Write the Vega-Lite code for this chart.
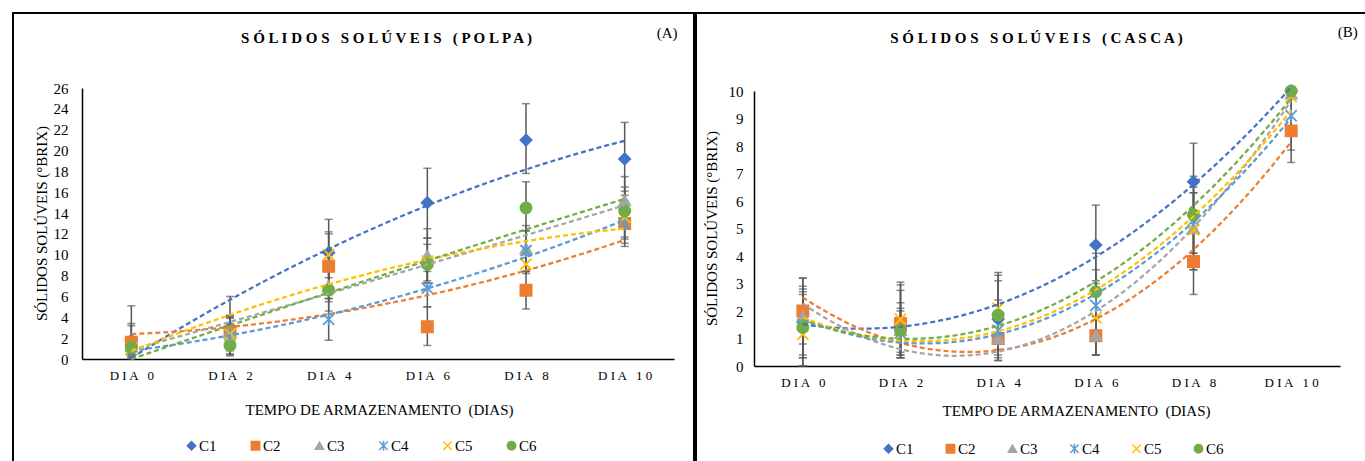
{
  "$schema": "https://vega.github.io/schema/vega-lite/v6.json",
  "padding": {"left": 12, "top": 12, "right": 0, "bottom": 0},
  "background": "white",
  "spacing": 0,
  "resolve": {"scale": {"fill": "independent", "stroke": "independent", "shape": "independent"}, "legend": {"fill": "independent", "stroke": "independent", "shape": "independent"}},
  "config": {
    "view": {"stroke": "#000", "strokeWidth": 2},
    "font": "Liberation Serif",
    "axis": {"labelFont": "Liberation Serif", "titleFont": "Liberation Serif", "labelColor": "#000", "titleColor": "#000", "domainColor": "#000", "domainWidth": 1.5, "grid": false, "ticks": false, "tickSize": 0, "titleFontWeight": "normal"},
    "title": {"font": "Liberation Serif", "fontSize": 15, "fontWeight": "bold", "color": "#000", "anchor": "middle", "frame": "group", "baseline": "middle", "offset": 0},
    "legend": {"labelFont": "Liberation Serif", "labelFontSize": 15, "labelColor": "#000", "symbolSize": 70, "symbolStrokeWidth": 1.5, "labelOffset": 0}
  },
  "data": {"values": [
    {"p": "A", "day": 0, "s": "C1", "v": 1.8, "lo": 0.3, "hi": 3.4},
    {"p": "A", "day": 0, "s": "C2", "v": 1.6, "lo": 0.1, "hi": 3.2},
    {"p": "A", "day": 0, "s": "C3", "v": 1.2, "lo": 0.0, "hi": 5.1},
    {"p": "A", "day": 0, "s": "C4", "v": 0.9, "lo": 0.4, "hi": 1.5},
    {"p": "A", "day": 0, "s": "C5", "v": 1.0, "lo": 0.5, "hi": 1.6},
    {"p": "A", "day": 0, "s": "C6", "v": 1.1, "lo": 0.2, "hi": 2.0},
    {"p": "A", "day": 2, "s": "C1", "v": 3.0, "lo": 0.4, "hi": 6.0},
    {"p": "A", "day": 2, "s": "C2", "v": 2.6, "lo": 1.1, "hi": 4.1},
    {"p": "A", "day": 2, "s": "C3", "v": 2.5, "lo": 0.9, "hi": 4.2},
    {"p": "A", "day": 2, "s": "C4", "v": 2.3, "lo": 0.5, "hi": 4.0},
    {"p": "A", "day": 2, "s": "C5", "v": 2.4, "lo": 0.8, "hi": 3.9},
    {"p": "A", "day": 2, "s": "C6", "v": 1.3, "lo": 0.3, "hi": 2.3},
    {"p": "A", "day": 4, "s": "C1", "v": 10.2, "lo": 7.0, "hi": 13.4},
    {"p": "A", "day": 4, "s": "C2", "v": 8.9, "lo": 5.8, "hi": 12.0},
    {"p": "A", "day": 4, "s": "C3", "v": 7.0, "lo": 5.5, "hi": 8.5},
    {"p": "A", "day": 4, "s": "C4", "v": 3.8, "lo": 1.8, "hi": 5.8},
    {"p": "A", "day": 4, "s": "C5", "v": 10.0, "lo": 7.8, "hi": 12.2},
    {"p": "A", "day": 4, "s": "C6", "v": 6.6, "lo": 4.6, "hi": 9.7},
    {"p": "A", "day": 6, "s": "C1", "v": 15.0, "lo": 11.6, "hi": 18.3},
    {"p": "A", "day": 6, "s": "C2", "v": 3.1, "lo": 1.3, "hi": 5.0},
    {"p": "A", "day": 6, "s": "C3", "v": 9.9, "lo": 7.3, "hi": 12.5},
    {"p": "A", "day": 6, "s": "C4", "v": 6.8, "lo": 5.0, "hi": 8.4},
    {"p": "A", "day": 6, "s": "C5", "v": 9.4, "lo": 7.3, "hi": 11.6},
    {"p": "A", "day": 6, "s": "C6", "v": 9.1, "lo": 7.5, "hi": 11.0},
    {"p": "A", "day": 8, "s": "C1", "v": 21.0, "lo": 17.8, "hi": 24.5},
    {"p": "A", "day": 8, "s": "C2", "v": 6.6, "lo": 4.8, "hi": 8.4},
    {"p": "A", "day": 8, "s": "C3", "v": 10.6, "lo": 8.4, "hi": 12.8},
    {"p": "A", "day": 8, "s": "C4", "v": 10.4, "lo": 8.4, "hi": 12.3},
    {"p": "A", "day": 8, "s": "C5", "v": 9.1, "lo": 8.2, "hi": 10.0},
    {"p": "A", "day": 8, "s": "C6", "v": 14.5, "lo": 12.3, "hi": 17.0},
    {"p": "A", "day": 10, "s": "C1", "v": 19.2, "lo": 15.7, "hi": 22.7},
    {"p": "A", "day": 10, "s": "C2", "v": 13.0, "lo": 10.8, "hi": 15.2},
    {"p": "A", "day": 10, "s": "C3", "v": 15.2, "lo": 13.0, "hi": 17.5},
    {"p": "A", "day": 10, "s": "C4", "v": 13.0, "lo": 11.5, "hi": 14.5},
    {"p": "A", "day": 10, "s": "C5", "v": 13.6, "lo": 11.1, "hi": 16.1},
    {"p": "A", "day": 10, "s": "C6", "v": 14.2, "lo": 11.7, "hi": 16.5},
    {"p": "B", "day": 0, "s": "C1", "v": 1.6, "lo": 0.3, "hi": 2.9},
    {"p": "B", "day": 0, "s": "C2", "v": 2.0, "lo": 0.8, "hi": 3.2},
    {"p": "B", "day": 0, "s": "C3", "v": 1.8, "lo": 0.4, "hi": 3.2},
    {"p": "B", "day": 0, "s": "C4", "v": 1.5, "lo": 0.3, "hi": 2.7},
    {"p": "B", "day": 0, "s": "C5", "v": 1.15, "lo": 0.0, "hi": 2.6},
    {"p": "B", "day": 0, "s": "C6", "v": 1.4, "lo": 0.0, "hi": 2.8},
    {"p": "B", "day": 2, "s": "C1", "v": 1.5, "lo": 0.3, "hi": 2.75},
    {"p": "B", "day": 2, "s": "C2", "v": 1.55, "lo": 0.3, "hi": 3.05},
    {"p": "B", "day": 2, "s": "C3", "v": 1.3, "lo": 0.5, "hi": 2.1},
    {"p": "B", "day": 2, "s": "C4", "v": 1.2, "lo": 0.4, "hi": 2.0},
    {"p": "B", "day": 2, "s": "C5", "v": 1.7, "lo": 0.4, "hi": 2.95},
    {"p": "B", "day": 2, "s": "C6", "v": 1.3, "lo": 0.3, "hi": 2.3},
    {"p": "B", "day": 4, "s": "C1", "v": 1.7, "lo": 0.2, "hi": 3.3},
    {"p": "B", "day": 4, "s": "C2", "v": 1.0, "lo": 0.4, "hi": 1.6},
    {"p": "B", "day": 4, "s": "C3", "v": 1.0, "lo": 0.2, "hi": 1.8},
    {"p": "B", "day": 4, "s": "C4", "v": 1.3, "lo": 0.3, "hi": 2.4},
    {"p": "B", "day": 4, "s": "C5", "v": 2.1, "lo": 0.8, "hi": 3.4},
    {"p": "B", "day": 4, "s": "C6", "v": 1.85, "lo": 0.6, "hi": 3.1},
    {"p": "B", "day": 6, "s": "C1", "v": 4.4, "lo": 3.0, "hi": 5.85},
    {"p": "B", "day": 6, "s": "C2", "v": 1.1, "lo": 0.4, "hi": 1.8},
    {"p": "B", "day": 6, "s": "C3", "v": 1.1, "lo": 0.4, "hi": 1.8},
    {"p": "B", "day": 6, "s": "C4", "v": 2.2, "lo": 0.9, "hi": 3.5},
    {"p": "B", "day": 6, "s": "C5", "v": 1.75, "lo": 0.4, "hi": 3.1},
    {"p": "B", "day": 6, "s": "C6", "v": 2.7, "lo": 1.3, "hi": 4.1},
    {"p": "B", "day": 8, "s": "C1", "v": 6.7, "lo": 5.3, "hi": 8.1},
    {"p": "B", "day": 8, "s": "C2", "v": 3.8, "lo": 2.6, "hi": 5.0},
    {"p": "B", "day": 8, "s": "C3", "v": 5.0, "lo": 3.5, "hi": 6.5},
    {"p": "B", "day": 8, "s": "C4", "v": 5.3, "lo": 4.1, "hi": 6.3},
    {"p": "B", "day": 8, "s": "C5", "v": 4.95, "lo": 3.5, "hi": 6.3},
    {"p": "B", "day": 8, "s": "C6", "v": 5.5, "lo": 4.1, "hi": 6.9},
    {"p": "B", "day": 10, "s": "C1", "v": 10.0, "lo": 10.0, "hi": 10.0},
    {"p": "B", "day": 10, "s": "C2", "v": 8.55, "lo": 7.4, "hi": 9.7},
    {"p": "B", "day": 10, "s": "C3", "v": 9.9, "lo": 9.9, "hi": 9.9},
    {"p": "B", "day": 10, "s": "C4", "v": 9.1, "lo": 7.85, "hi": 10.0},
    {"p": "B", "day": 10, "s": "C5", "v": 9.8, "lo": 9.8, "hi": 9.8},
    {"p": "B", "day": 10, "s": "C6", "v": 10.0, "lo": 10.0, "hi": 10.0}
  ]},
  "hconcat": [
    {
      "width": 681,
      "height": 460,
      "transform": [{"filter": "datum.p == 'A'"}],
      "title": {"text": "S Ó L I D O S \u00a0 S O L Ú V E I S \u00a0 ( P O L P A )", "dx": 33, "dy": 37},
      "resolve": {"axis": {"y": "independent"}},
      "encoding": {
        "x": {"field": "day", "type": "quantitative",
          "scale": {"domain": [-1, 11], "range": [69, 661], "nice": false, "zero": false},
          "axis": {"values": [0, 2, 4, 6, 8, 10], "labelExpr": "datum.value == 10 ? 'D I A \u00a0 1 0' : 'D I A \u00a0 ' + datum.value", "offset": -114, "labelFontSize": 13, "labelPadding": 10,
            "title": "TEMPO DE ARMAZENAMENTO\u00a0 (DIAS)", "titleFontSize": 15, "titleX": 366, "titleY": 50, "titleBaseline": "middle"}}
      },
      "layer": [
        {"mark": {"type": "rule", "color": "#595959", "strokeWidth": 1.5},
         "encoding": {
           "y": {"field": "lo", "type": "quantitative",
             "scale": {"domain": [0, 26], "range": [346, 75], "nice": false, "zero": false},
             "axis": {"orient": "left", "values": [0, 2, 4, 6, 8, 10, 12, 14, 16, 18, 20, 22, 24, 26], "offset": -69, "labelFontSize": 15, "labelPadding": 14,
               "title": "SÓLIDOS SOLÚVEIS (°BRIX)", "titleFontSize": 15, "titleX": -41, "titleY": 210, "titleBaseline": "middle", "titleAlign": "center"}},
           "y2": {"field": "hi"}}},
        {"mark": {"type": "tick", "orient": "horizontal", "color": "#595959", "size": 8, "thickness": 1.5},
         "encoding": {"y": {"field": "lo", "type": "quantitative", "axis": null}}},
        {"mark": {"type": "tick", "orient": "horizontal", "color": "#595959", "size": 8, "thickness": 1.5},
         "encoding": {"y": {"field": "hi", "type": "quantitative", "axis": null}}},
        {"mark": {"type": "point", "filled": true, "size": 125, "strokeWidth": 1.8, "opacity": 1},
         "encoding": {
           "y": {"field": "v", "type": "quantitative", "axis": null},
           "fill": {"field": "s", "type": "nominal",
             "scale": {"domain": ["C1", "C2", "C3", "C4", "C5", "C6"], "range": ["#4472C4", "#ED7D31", "#A5A5A5", "#5B9BD5", "#FFC000", "#70AD47"]},
             "legend": {"orient": "none", "legendX": 171, "legendY": 425, "direction": "horizontal", "title": null, "columnPadding": 31}},
           "stroke": {"field": "s", "type": "nominal",
             "scale": {"domain": ["C1", "C2", "C3", "C4", "C5", "C6"], "range": ["#4472C4", "#ED7D31", "#A5A5A5", "#5B9BD5", "#FFC000", "#70AD47"]},
             "legend": {"orient": "none", "legendX": 171, "legendY": 425, "direction": "horizontal", "title": null, "columnPadding": 31}},
           "shape": {"field": "s", "type": "nominal",
             "scale": {"domain": ["C1", "C2", "C3", "C4", "C5", "C6"], "range": ["diamond", "square", "triangle-up", "M-1,-1L1,1M1,-1L-1,1M0,-1.2L0,1.2", "M-1,-1L1,1M1,-1L-1,1", "circle"]},
             "legend": {"orient": "none", "legendX": 171, "legendY": 425, "direction": "horizontal", "title": null, "columnPadding": 31}}}},
        {"transform": [{"regression": "v", "on": "day", "groupby": ["s"], "method": "poly", "order": 2, "extent": [0, 10]}],
         "mark": {"type": "line", "strokeDash": [5, 3], "strokeWidth": 2.25},
         "encoding": {
           "y": {"field": "v", "type": "quantitative", "axis": null},
           "stroke": {"field": "s", "type": "nominal"}}},
        {"transform": [{"filter": "datum.s == 'C1' && datum.day == 0"}],
         "mark": {"type": "text", "font": "Liberation Serif", "fontSize": 15, "color": "#000", "baseline": "middle", "align": "center"},
         "encoding": {"x": {"datum": 10.86, "type": "quantitative"}, "y": {"datum": 31.3, "type": "quantitative", "axis": null}, "text": {"value": "(A)"}}}
      ]
    },
    {
      "width": 681,
      "height": 460,
      "transform": [{"filter": "datum.p == 'B'"}],
      "title": {"text": "S Ó L I D O S \u00a0 S O L Ú V E I S \u00a0 ( C A S C A )", "dx": 0, "dy": 37},
      "resolve": {"axis": {"y": "independent"}},
      "encoding": {
        "x": {"field": "day", "type": "quantitative",
          "scale": {"domain": [-1, 11], "range": [58, 644], "nice": false, "zero": false},
          "axis": {"values": [0, 2, 4, 6, 8, 10], "labelExpr": "datum.value == 10 ? 'D I A \u00a0 1 0' : 'D I A \u00a0 ' + datum.value", "offset": -107, "labelFontSize": 13, "labelPadding": 10,
            "title": "TEMPO DE ARMAZENAMENTO\u00a0 (DIAS)", "titleFontSize": 15, "titleX": 380, "titleY": 44, "titleBaseline": "middle"}}
      },
      "layer": [
        {"mark": {"type": "rule", "color": "#595959", "strokeWidth": 1.5},
         "encoding": {
           "y": {"field": "lo", "type": "quantitative",
             "scale": {"domain": [0, 10], "range": [353, 78], "nice": false, "zero": false},
             "axis": {"orient": "left", "values": [0, 1, 2, 3, 4, 5, 6, 7, 8, 9, 10], "offset": -58, "labelFontSize": 15, "labelPadding": 11,
               "title": "SÓLIDOS SOLÚVEIS (°BRIX)", "titleFontSize": 15, "titleX": -43, "titleY": 215, "titleBaseline": "middle", "titleAlign": "center"}},
           "y2": {"field": "hi"}}},
        {"mark": {"type": "tick", "orient": "horizontal", "color": "#595959", "size": 8, "thickness": 1.5},
         "encoding": {"y": {"field": "lo", "type": "quantitative", "axis": null}}},
        {"mark": {"type": "tick", "orient": "horizontal", "color": "#595959", "size": 8, "thickness": 1.5},
         "encoding": {"y": {"field": "hi", "type": "quantitative", "axis": null}}},
        {"mark": {"type": "point", "filled": true, "size": 125, "strokeWidth": 1.8, "opacity": 1},
         "encoding": {
           "y": {"field": "v", "type": "quantitative", "axis": null},
           "fill": {"field": "s", "type": "nominal",
             "scale": {"domain": ["C1", "C2", "C3", "C4", "C5", "C6"], "range": ["#4472C4", "#ED7D31", "#A5A5A5", "#5B9BD5", "#FFC000", "#70AD47"]},
             "legend": {"orient": "none", "legendX": 185, "legendY": 428, "direction": "horizontal", "title": null, "columnPadding": 29}},
           "stroke": {"field": "s", "type": "nominal",
             "scale": {"domain": ["C1", "C2", "C3", "C4", "C5", "C6"], "range": ["#4472C4", "#ED7D31", "#A5A5A5", "#5B9BD5", "#FFC000", "#70AD47"]},
             "legend": {"orient": "none", "legendX": 185, "legendY": 428, "direction": "horizontal", "title": null, "columnPadding": 29}},
           "shape": {"field": "s", "type": "nominal",
             "scale": {"domain": ["C1", "C2", "C3", "C4", "C5", "C6"], "range": ["diamond", "square", "triangle-up", "M-1,-1L1,1M1,-1L-1,1M0,-1.2L0,1.2", "M-1,-1L1,1M1,-1L-1,1", "circle"]},
             "legend": {"orient": "none", "legendX": 185, "legendY": 428, "direction": "horizontal", "title": null, "columnPadding": 29}}}},
        {"transform": [{"regression": "v", "on": "day", "groupby": ["s"], "method": "poly", "order": 2, "extent": [0, 10]}],
         "mark": {"type": "line", "strokeDash": [5, 3], "strokeWidth": 2.25},
         "encoding": {
           "y": {"field": "v", "type": "quantitative", "axis": null},
           "stroke": {"field": "s", "type": "nominal"}}},
        {"transform": [{"filter": "datum.s == 'C1' && datum.day == 0"}],
         "mark": {"type": "text", "font": "Liberation Serif", "fontSize": 15, "color": "#000", "baseline": "middle", "align": "center"},
         "encoding": {"x": {"datum": 11.16, "type": "quantitative"}, "y": {"datum": 12.15, "type": "quantitative", "axis": null}, "text": {"value": "(B)"}}}
      ]
    }
  ]
}
